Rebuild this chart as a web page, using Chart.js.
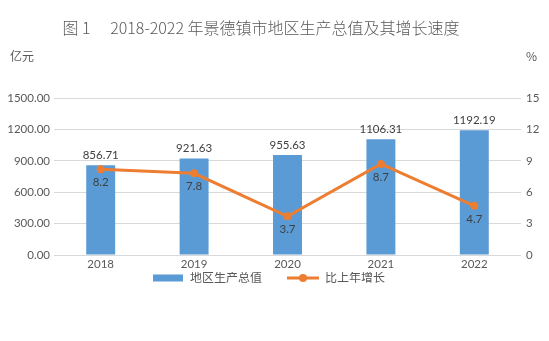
<!DOCTYPE html>
<html><head><meta charset="utf-8">
<script src="https://cdn.jsdelivr.net/npm/chart.js@4/dist/chart.umd.min.js"></script>
<style>html,body{margin:0;padding:0;background:#fff}#wrap{width:549px;height:341px}</style>
</head><body><div id="wrap"><canvas id="c" width="549" height="341"></canvas></div>
<script>
const years = ['2018','2019','2020','2021','2022'];
const gdp = [856.71, 921.63, 955.63, 1106.31, 1192.19];
const growth = [8.2, 7.8, 3.7, 8.7, 4.7];
const leftTicks = [0, 300, 600, 900, 1200, 1500];
const rightTicks = [0, 3, 6, 9, 12, 15];
const titleText = '图 1\u2003 2018-2022 年景德镇市地区生产总值及其增长速度';
const seriesNames = ['地区生产总值', '比上年增长'];
const leftUnit = '亿元', rightUnit = '%';

const BLUE = '#5B9BD5', ORANGE = '#ED7D31', GREY = '#595959', DARK = '#404040';
const FONT = "Lato, 'Noto Sans CJK SC', sans-serif";
const LEG_PAD = 0, ICON_EMPTY = 25, ICON_W = 32 + ICON_EMPTY;
const PAD_LEFT = -37;

function icon(kind){
  const c = document.createElement('canvas'); c.width = ICON_W; c.height = 12;
  const x = c.getContext('2d');
  const o = ICON_EMPTY;
  if (kind === 'bar'){ x.fillStyle = BLUE; x.fillRect(o + 1, 2.5, 30, 7); }
  else { x.strokeStyle = ORANGE; x.lineWidth = 3; x.beginPath(); x.moveTo(o, 6); x.lineTo(o + 32, 6); x.stroke();
         x.fillStyle = ORANGE; x.beginPath(); x.arc(o + 16, 6, 4, 0, Math.PI*2); x.fill(); }
  return c;
}
const icons = [icon('bar'), icon('line')];

const extras = {
  id: 'extras',
  beforeDraw(chart){
    const ctx = chart.ctx; ctx.save();
    ctx.fillStyle = '#fff'; ctx.fillRect(0,0,chart.width,chart.height);
    ctx.fillStyle = GREY; ctx.textBaseline = 'middle';
    ctx.font = "300 16px 'Noto Sans CJK SC', sans-serif"; ctx.textAlign = 'center';
    ctx.fillText(titleText, 261, 28);
    ctx.font = "12px 'Noto Sans CJK SC', sans-serif"; ctx.textAlign = 'left';
    ctx.fillText(leftUnit, 10, 56);
    ctx.fillText(rightUnit, 526, 56);
    ctx.restore();
  },
  afterDatasetsDraw(chart){
    const ctx = chart.ctx; ctx.save();
    ctx.fillStyle = DARK; ctx.font = '11.5px ' + FONT; ctx.textAlign = 'center'; ctx.textBaseline = 'middle';
    chart.getDatasetMeta(0).data.forEach((el, i) => ctx.fillText(gdp[i].toFixed(2), el.x, el.y - 10));
    chart.getDatasetMeta(1).data.forEach((el, i) => ctx.fillText(growth[i].toFixed(1), el.x, el.y + 13));
    ctx.restore();
  }
};

new Chart(document.getElementById('c'), {
  data: {
    labels: years,
    datasets: [
      { type: 'bar', label: seriesNames[0], data: gdp, backgroundColor: BLUE, yAxisID: 'y', order: 1,
        categoryPercentage: 1, barPercentage: 0.31 },
      { type: 'line', label: seriesNames[1], data: growth, borderColor: ORANGE, backgroundColor: ORANGE,
        borderWidth: 3, pointRadius: 4, pointHoverRadius: 4, pointBackgroundColor: ORANGE, pointBorderWidth: 0,
        tension: 0, yAxisID: 'y1', order: 0 }
    ]
  },
  options: {
    responsive: false, animation: false, devicePixelRatio: 1,
    layout: { padding: { top: 98, bottom: 47, left: PAD_LEFT, right: 0 } },
    plugins: {
      title: { display: false }, tooltip: { enabled: false },
      legend: { position: 'bottom',
        labels: { usePointStyle: true, pointStyleWidth: ICON_W, boxHeight: 12, padding: LEG_PAD, color: GREY,
          font: { size: 12, family: FONT },
          generateLabels(chart){
            return seriesNames.map((n, i) => ({ text: n, pointStyle: icons[i], fillStyle: 'transparent',
              strokeStyle: 'transparent', lineWidth: 0, datasetIndex: i, hidden: false, fontColor: GREY }));
          }
        } }
    },
    scales: {
      x: { grid: { display: false, drawTicks: false }, border: { display: false },
        ticks: { color: GREY, font: { size: 11.5, family: FONT }, padding: 2 },
        afterFit(s){ s.height = 17; } },
      y: { position: 'left', min: 0, max: 1500,
        afterBuildTicks(s){ s.ticks = leftTicks.map(v => ({ value: v })); },
        ticks: { color: GREY, font: { size: 11.5, family: FONT }, padding: 4, callback: v => Number(v).toFixed(2) },
        grid: { color: '#D9D9D9', drawTicks: false, lineWidth: 1 }, border: { display: false },
        afterFit(s){ s.width = 54 - PAD_LEFT; } },
      y1: { position: 'right', min: 0, max: 15,
        afterBuildTicks(s){ s.ticks = rightTicks.map(v => ({ value: v })); },
        ticks: { color: GREY, font: { size: 11.5, family: FONT }, padding: 5 },
        grid: { display: false, drawTicks: false }, border: { display: false },
        afterFit(s){ s.width = 28; } }
    }
  },
  plugins: [extras]
});
</script></body></html>
